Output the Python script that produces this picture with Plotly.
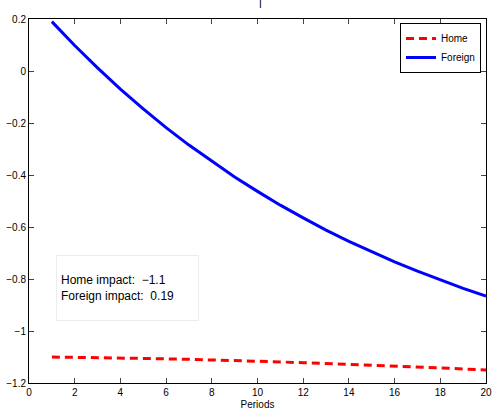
import plotly.graph_objects as go

periods = list(range(1, 21))
home = [-1.100, -1.101, -1.102, -1.103, -1.105, -1.107, -1.109, -1.111, -1.114, -1.116,
        -1.119, -1.122, -1.125, -1.128, -1.131, -1.135, -1.138, -1.142, -1.146, -1.150]
foreign = [0.190, 0.098, 0.012, -0.070, -0.146, -0.218, -0.285, -0.348, -0.408, -0.463,
           -0.516, -0.565, -0.612, -0.655, -0.696, -0.734, -0.770, -0.804, -0.836, -0.866]
x_ticks = list(range(0, 21, 2))
y_ticks = [-1.2, -1.0, -0.8, -0.6, -0.4, -0.2, 0.0, 0.2]
y_labels = ["\u22121.2", "\u22121", "\u22120.8", "\u22120.6", "\u22120.4", "\u22120.2", "0", "0.2"]
home_impact = "\u22121.1"
foreign_impact = "0.19"

font = "Liberation Sans, Arial, Helvetica, sans-serif"

fig = go.Figure()
fig.add_trace(go.Scatter(x=periods, y=home, mode="lines", name="Home",
                         line=dict(color="#ff0000", width=3, dash="8px,5px")))
fig.add_trace(go.Scatter(x=periods, y=foreign, mode="lines", name="Foreign",
                         line=dict(color="#0000ff", width=3)))

fig.update_layout(
    width=498, height=415,
    margin=dict(l=29, r=6, t=19, b=32),
    paper_bgcolor="white", plot_bgcolor="white",
    font=dict(family=font, size=10, color="black"),
    title=dict(text="I", x=0.523, xanchor="center", y=0.988, yref="container",
               yanchor="middle", font=dict(size=10)),
    showlegend=True,
    legend=dict(x=0.989, y=0.989, xanchor="right", yanchor="top",
                bordercolor="black", borderwidth=1, bgcolor="white",
                font=dict(size=10), tracegroupgap=0, itemwidth=30),
    xaxis=dict(range=[0, 20], tickvals=x_ticks, ticks="inside", ticklen=5,
               showline=True, linecolor="black", linewidth=1, mirror="ticks",
               showgrid=False, zeroline=False,
               title=dict(text="Periods", standoff=3, font=dict(size=10))),
    yaxis=dict(range=[-1.2, 0.2], tickvals=y_ticks, ticktext=y_labels,
               ticks="inside", ticklen=5,
               showline=True, linecolor="black", linewidth=1, mirror="ticks",
               showgrid=False, zeroline=False),
)

fig.add_annotation(
    xref="paper", yref="paper", x=(56 - 29) / 463, y=(383 - 255) / 364,
    xanchor="left", yanchor="top",
    text="Home impact:  " + home_impact + "<br>Foreign impact:  " + foreign_impact,
    showarrow=False, align="left", valign="middle",
    width=133, height=56, borderpad=4,
    bordercolor="#ececec", borderwidth=1, bgcolor="white",
    font=dict(size=12, family=font, color="black"),
)

fig.write_html("out.html")
